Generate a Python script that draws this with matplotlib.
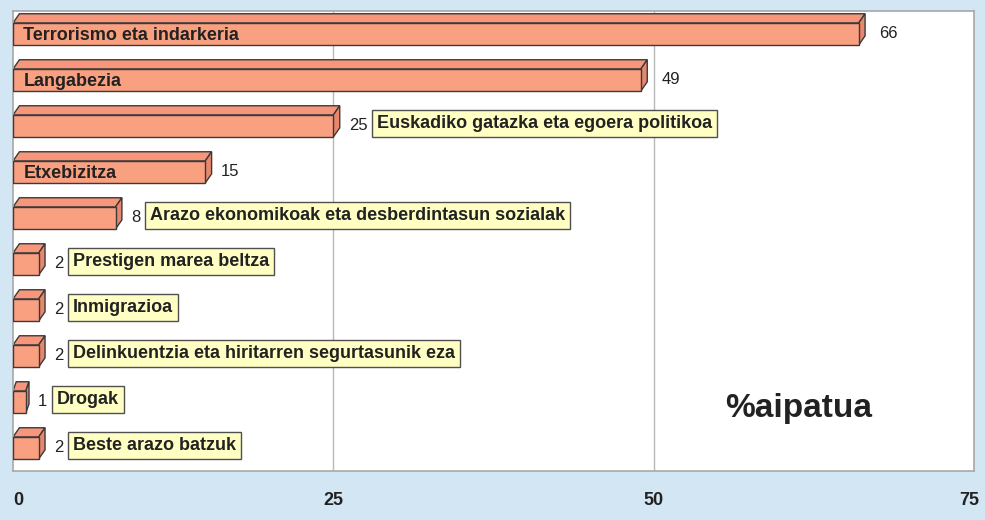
import matplotlib
matplotlib.use("Agg")
import matplotlib.pyplot as plt
from matplotlib.patches import Polygon, Rectangle

categories = [
    "Terrorismo eta indarkeria",
    "Langabezia",
    "Euskadiko gatazka eta egoera politikoa",
    "Etxebizitza",
    "Arazo ekonomikoak eta desberdintasun sozialak",
    "Prestigen marea beltza",
    "Inmigrazioa",
    "Delinkuentzia eta hiritarren segurtasunik eza",
    "Drogak",
    "Beste arazo batzuk",
]
values = [66, 49, 25, 15, 8, 2, 2, 2, 1, 2]
inside_label = [True, True, False, True, False, False, False, False, False, False]
xticks = [0, 25, 50, 75]

bg = "#D3E6F4"
face = "#F9A081"
top_col = "#F7967A"
side_col = "#E8876B"
edge = "#3A3A3A"
font = ["Liberation Sans", "DejaVu Sans"]
txt = "#222222"

fig = plt.figure(figsize=(9.85, 5.2), dpi=100, facecolor=bg)
ax = fig.add_axes([13 / 985, 49 / 520, 961 / 985, 460 / 520])
ax.set_facecolor("white")
ax.set_xlim(0, 75)
ax.set_ylim(9.5, -0.5)
for s in ax.spines.values():
    s.set_color("#A8A8A8")
    s.set_linewidth(1.2)
ax.set_xticks([])
ax.set_yticks([])
for g in [25, 50]:
    ax.axvline(g, color="#B8B8B8", lw=1, zorder=0)

h = 0.48      # front face height
dx = 0.5      # depth along x (data units)
dy = 0.2      # depth along y (data units)

for i, (lab, v) in enumerate(zip(categories, values)):
    y0 = i - h / 2
    y1 = i + h / 2
    ddx = min(dx, 0.25 * v)
    # top face
    ax.add_patch(Polygon([(0, y0), (ddx, y0 - dy), (v + ddx, y0 - dy), (v, y0)],
                         closed=True, fc=top_col, ec=edge, lw=1, zorder=2))
    # side face
    ax.add_patch(Polygon([(v, y0), (v + ddx, y0 - dy), (v + ddx, y1 - dy), (v, y1)],
                         closed=True, fc=side_col, ec=edge, lw=1, zorder=2))
    # front face
    ax.add_patch(Rectangle((0, y0), v, h, fc=face, ec=edge, lw=1, zorder=3))

    gap = 1.1 if v >= 40 else 0.7
    vx = v + ddx + gap
    t = ax.text(vx, i - 0.02, str(v), ha="left", va="center", fontsize=12,
                family=font, color=txt, zorder=4)
    if inside_label[i]:
        ax.text(0.8, i + 0.03, lab, ha="left", va="center", fontsize=13,
                fontweight="bold", family=font, color=txt, zorder=4)
    else:
        ax.annotate(lab, xy=(1, 0.5), xycoords=t, xytext=(7, 1),
                    textcoords="offset points", ha="left", va="center",
                    fontsize=13, fontweight="bold", family=font, color=txt,
                    zorder=4,
                    bbox=dict(boxstyle="square,pad=0.28", fc="#FFFFC4",
                              ec="#505050", lw=1))

for xt in xticks:
    ha = "center"
    xpos = xt
    if xt == 0:
        ha = "left"
    elif xt == 75:
        ha = "right"
        xpos = 75.4
    ax.text(xpos, -0.065, str(xt), transform=ax.get_xaxis_transform(),
            ha=ha, va="center", fontsize=13, fontweight="bold", family=font,
            color=txt, clip_on=False)

ax.text(61.3, 8.15, "%aipatua", ha="center", va="center", fontsize=24,
        fontweight="bold", family=font, color=txt)

fig.savefig("out.png", dpi=100, facecolor=bg)
